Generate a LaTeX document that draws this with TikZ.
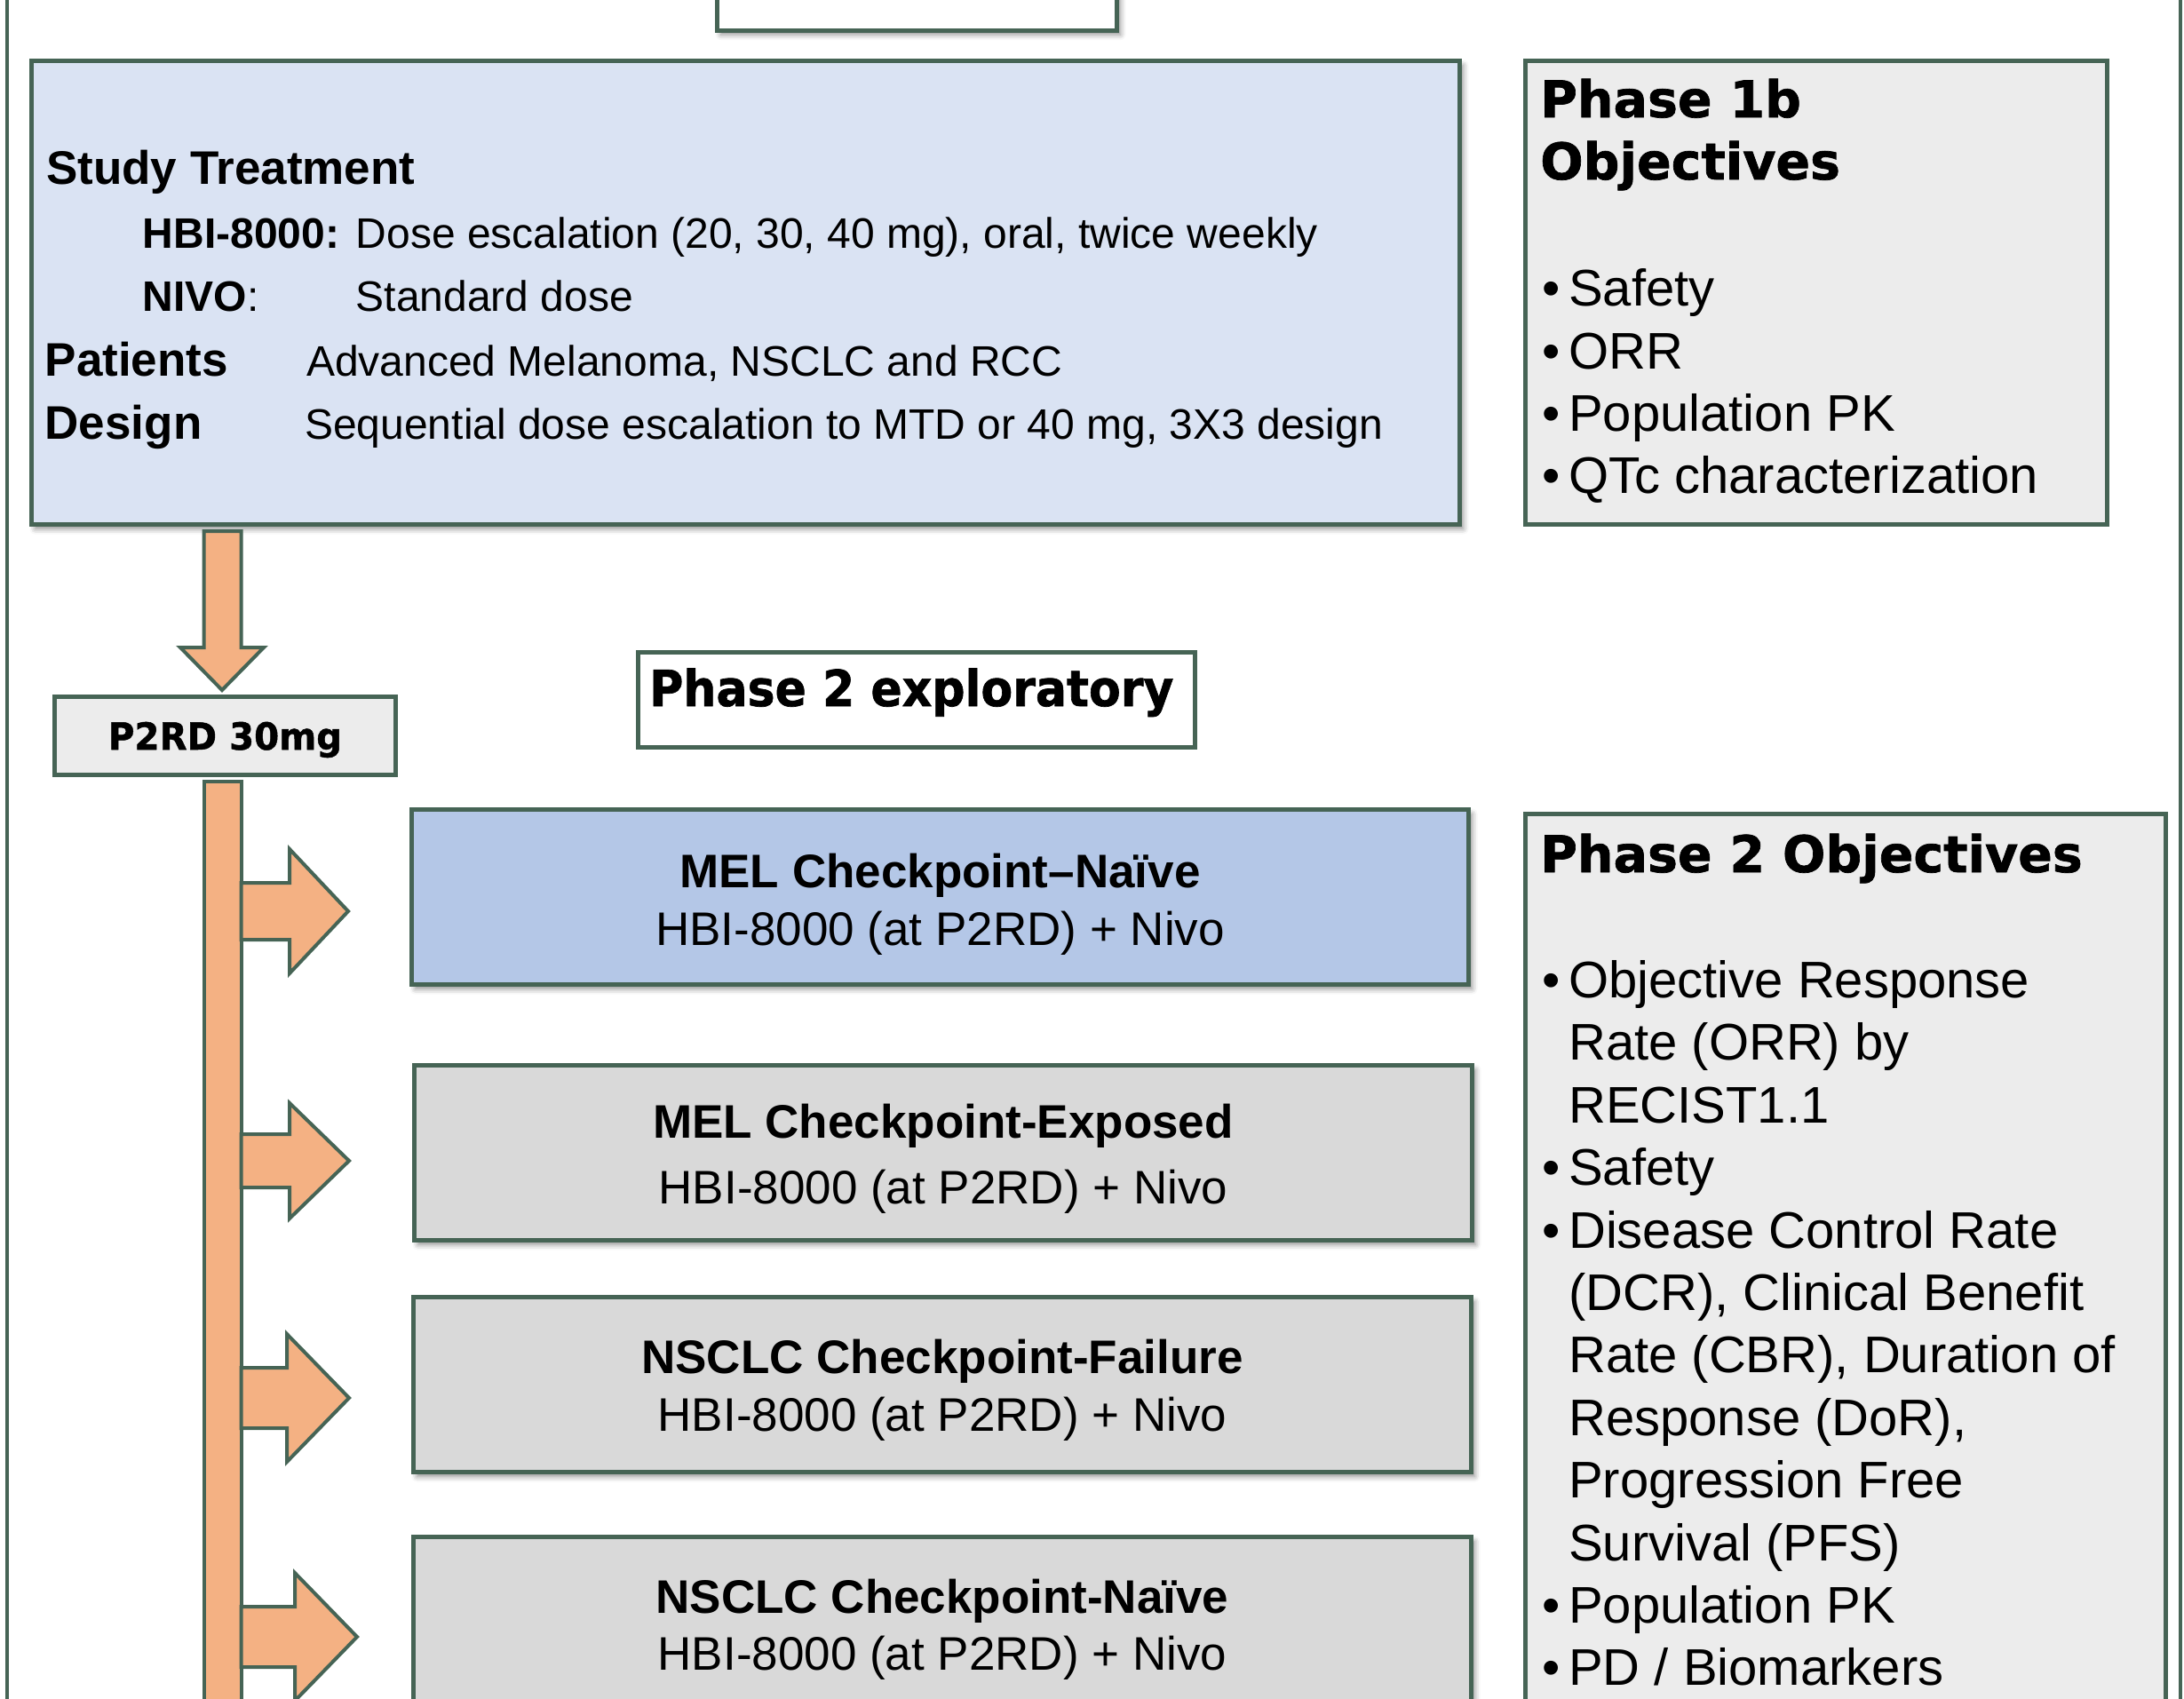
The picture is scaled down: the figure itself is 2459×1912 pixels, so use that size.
\documentclass[tikz,border=0pt]{standalone}
\usepackage{fontspec}
\setmainfont{Liberation Sans}
\newfontfamily\heavyfont{DejaVu Sans}[BoldFeatures={FakeBold=1.2}]
\usetikzlibrary{shadows.blur}
\definecolor{bord}{RGB}{70,100,85}
\definecolor{orangef}{RGB}{244,177,131}
\definecolor{mainblue}{RGB}{218,227,243}
\definecolor{melblue}{RGB}{180,199,231}
\definecolor{greyf}{RGB}{217,217,217}
\definecolor{lightg}{RGB}{236,236,236}
\begin{document}
\begin{tikzpicture}[x=1pt,y=-1pt,
  box/.style={draw=bord, line width=5pt, rectangle, inner sep=0pt, outer sep=0pt, anchor=north west},
  shad/.style={blur shadow={shadow xshift=4pt, shadow yshift=-5pt, shadow blur radius=6pt, shadow opacity=45}},
  txt/.style={inner sep=0pt, anchor=base west},
  ctxt/.style={inner sep=0pt, anchor=base},
  fa/.style={font=\fontsize{48}{58}\selectfont},
  fab/.style={font=\fontsize{48}{58}\selectfont\bfseries},
  fb/.style={font=\fontsize{53}{62}\selectfont\bfseries},
  fr/.style={font=\fontsize{53}{62}\selectfont},
  fl/.style={font=\fontsize{58}{70}\selectfont},
  fh/.style={font=\fontsize{57}{70}\selectfont\heavyfont\bfseries},
  blockarrow/.style={draw=bord, fill=orangef, line width=4pt, line join=miter},
]
\useasboundingbox (0,0) rectangle (2459,1912);
\clip (0,0) rectangle (2459,1912);

% outer frame
\draw[bord, line width=4pt] (8,-100) rectangle (2455,2100);

% top (cut off) box
\node[box, fill=white, shad, minimum width=450pt, minimum height=95pt] (topbox) at (807.5,-61) {};

% main study box
\node[box, fill=mainblue, shad, minimum width=1608pt, minimum height=522pt] (main) at (35.5,68.5) {};
\node[txt, fb] (st) at (52,207) {Study Treatment};
\node[txt, fab] (hbi) at (160.5,279) {HBI-8000:};
\node[txt, fa] (hbit) at (400.5,279) {Dose escalation (20, 30, 40 mg), oral, twice weekly};
\node[txt, fa] (nivo) at (160.5,350) {\textbf{NIVO}:};
\node[txt, fa] (nivot) at (400.5,350) {Standard dose};
\node[txt, fb] (pat) at (50.5,423) {Patients};
\node[txt, fa] (patt) at (345,423) {Advanced Melanoma, NSCLC and RCC};
\node[txt, fb] (des) at (50.5,494) {Design};
\node[txt, fa] (dest) at (343,494) {Sequential dose escalation to MTD or 40 mg, 3X3 design};

% Phase 1b objectives
\node[box, fill=lightg, minimum width=655pt, minimum height=522pt] (ph1) at (1717.5,68.5) {};
\node[txt, fh] (ph1a) at (1734,132) {Phase 1b};
\node[txt, fh] (ph1b) at (1734,202) {Objectives};
\foreach \yy/\tt [count=\i] in {344/Safety, 415/ORR, 485/Population PK, 555/QTc characterization}{
  \node[txt, fl] (ph1d\i) at (1736,\yy) {•};
  \node[txt, fl] (ph1t\i) at (1766,\yy) {\tt};
}

% vertical bar
\node[draw=bord, fill=orangef, line width=4pt, rectangle, inner sep=0pt, outer sep=0pt, anchor=north west,
      minimum width=42pt, minimum height=1200pt] (bar) at (229.5,880) {};

% P2RD box
\node[box, fill=lightg, minimum width=384pt, minimum height=88pt] (p2rd) at (61.5,784.5) {};
\node[ctxt, font=\fontsize{42}{48}\selectfont\heavyfont\bfseries] (p2rdt) at (p2rd.north |- 0,844) {\scalebox{0.96}[1]{P2RD 30mg}};

% down arrow
\draw[blockarrow] (bar.west |- 0,598) -- (bar.east |- 0,598) -- (bar.east |- 0,729) -- (297,729)
   -- (250,777) -- (203,729) -- (bar.west |- 0,729) -- cycle;

% Phase 2 exploratory
\node[box, fill=white, minimum width=627pt, minimum height=107pt] (expl) at (718.5,734.5) {};
\node[txt, font=\fontsize{56}{64}\selectfont\heavyfont\bfseries] (explt) at (731,795) {\scalebox{0.93}[1]{Phase 2 exploratory}};

% cohort boxes
\node[box, fill=melblue, shad, minimum width=1190pt, minimum height=197pt] (mel1) at (463.5,911.5) {};
\node[ctxt, fb] (mel1a) at (mel1.north |- 0,999) {MEL Checkpoint–Naïve};
\node[ctxt, fr] (mel1b) at (mel1.north |- 0,1064) {HBI-8000 (at P2RD) + Nivo};

\node[box, fill=greyf, shad, minimum width=1191pt, minimum height=197pt] (mel2) at (466.5,1199.5) {};
\node[ctxt, fb] (mel2a) at (mel2.north |- 0,1281) {MEL Checkpoint-Exposed};
\node[ctxt, fr] (mel2b) at (mel2.north |- 0,1355) {HBI-8000 (at P2RD) + Nivo};

\node[box, fill=greyf, shad, minimum width=1191pt, minimum height=197pt] (ns1) at (465.5,1460.5) {};
\node[ctxt, fb] (ns1a) at (ns1.north |- 0,1546) {NSCLC Checkpoint-Failure};
\node[ctxt, fr] (ns1b) at (ns1.north |- 0,1611) {HBI-8000 (at P2RD) + Nivo};

\node[box, fill=greyf, shad, minimum width=1191pt, minimum height=300pt] (ns2) at (465.5,1730.5) {};
\node[ctxt, fb] (ns2a) at (ns2.north |- 0,1816) {NSCLC Checkpoint-Naïve};
\node[ctxt, fr] (ns2b) at (ns2.north |- 0,1880) {HBI-8000 (at P2RD) + Nivo};

% right block arrows from the bar
\draw[blockarrow] (bar.east |- 0,994) -- (326,994) -- (326,956) -- (392,1026) -- (326,1096) -- (326,1058) -- (bar.east |- 0,1058) -- cycle;
\draw[blockarrow] (bar.east |- 0,1277) -- (326,1277) -- (326,1242) -- (393,1307) -- (326,1372) -- (326,1337) -- (bar.east |- 0,1337) -- cycle;
\draw[blockarrow] (bar.east |- 0,1540) -- (323,1540) -- (323,1502) -- (393,1574) -- (323,1646) -- (323,1608) -- (bar.east |- 0,1608) -- cycle;
\draw[blockarrow] (bar.east |- 0,1809) -- (332,1809) -- (332,1771) -- (402,1843) -- (332,1915) -- (332,1877) -- (bar.east |- 0,1877) -- cycle;

% Phase 2 objectives
\node[box, fill=lightg, minimum width=721pt, minimum height=1200pt] (ph2) at (1717.5,916.5) {};
\node[txt, fh] (ph2h) at (1734,982) {Phase 2 Objectives};
\foreach \yy in {1123,1334,1405,1827,1897}{
  \node[txt, fl] at (1736,\yy) {•};
}
\node[txt, fl] (o1) at (1766,1123) {Objective Response};
\node[txt, fl] (o2) at (1766,1193) {Rate (ORR) by};
\node[txt, fl] (o3) at (1766,1264) {RECIST1.1};
\node[txt, fl] (o4) at (1766,1334) {Safety};
\node[txt, fl] (o5) at (1766,1405) {Disease Control Rate};
\node[txt, fl] (o6) at (1766,1475) {(DCR), Clinical Benefit};
\node[txt, fl] (o7) at (1766,1545) {Rate (CBR), Duration of};
\node[txt, fl] (o8) at (1766,1616) {Response (DoR),};
\node[txt, fl] (o9) at (1766,1686) {Progression Free};
\node[txt, fl] (o10) at (1766,1757) {Survival (PFS)};
\node[txt, fl] (o11) at (1766,1827) {Population PK};
\node[txt, fl] (o12) at (1766,1897) {PD / Biomarkers};
\end{tikzpicture}
\end{document}
